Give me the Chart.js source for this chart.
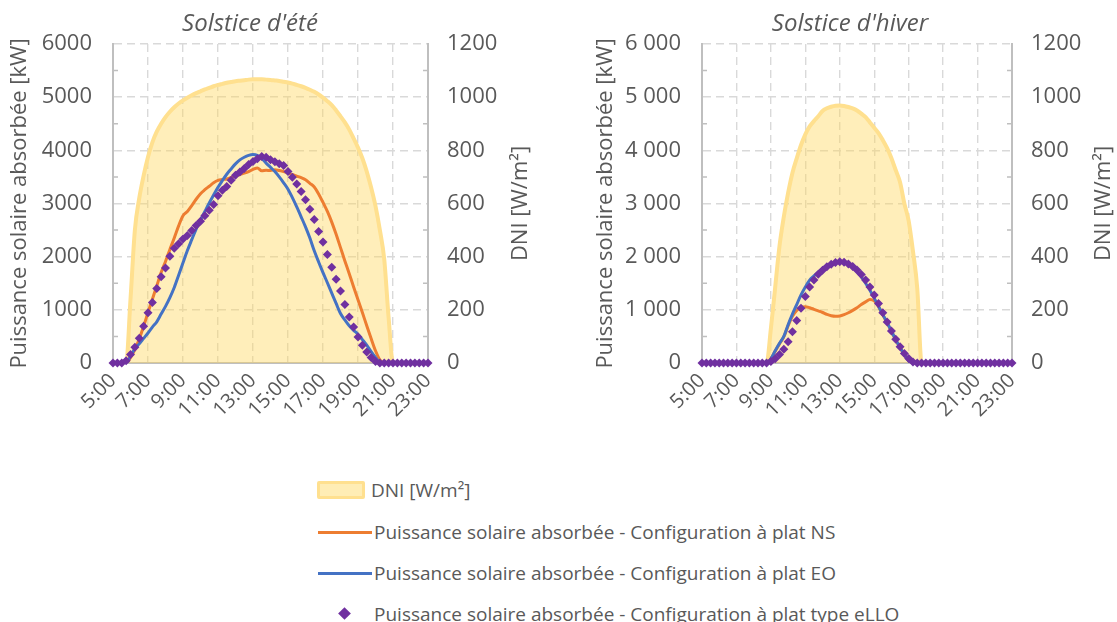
<!DOCTYPE html>
<html lang="fr">
<head>
<meta charset="utf-8">
<title>Solstices</title>
<script src="https://cdn.jsdelivr.net/npm/chart.js@4/dist/chart.umd.min.js"></script>
<style>
  html, body { margin: 0; padding: 0; background: #fff; }
  body { position: relative; width: 1117px; height: 622px; overflow: hidden;
         font-family: 'Open Sans', sans-serif; color: #595959; }
  canvas { position: absolute; top: 0; }
  #summer-chart { left: 0; }
  #winter-chart { left: 560px; }
  .lg { position: absolute; }
  .lg-text { font-size: 19px; line-height: 24px; white-space: nowrap; }
  .sw-area { left: 317px; top: 481px; width: 48px; height: 18px; box-sizing: border-box;
             background: rgba(255, 214, 90, 0.45); border: 3px solid #FFE08F; border-radius: 2px; }
  .sw-line { left: 318px; width: 54px; height: 3px; }
  .sw-diamond { left: 340px; top: 609px; width: 9px; height: 9px; background: #7030A0; transform: rotate(45deg); }
</style>
</head>
<body>
<canvas id="summer-chart" width="560" height="450"></canvas>
<canvas id="winter-chart" width="557" height="450"></canvas>

<div class="lg sw-area"></div>
<div class="lg lg-text" style="left:371px; top:478px">DNI [W/m²]</div>
<div class="lg sw-line" style="top:531px; background:#ED7D31"></div>
<div class="lg lg-text" style="left:374px; top:520px">Puissance solaire absorbée - Configuration à plat NS</div>
<div class="lg sw-line" style="top:572px; background:#4472C4"></div>
<div class="lg lg-text" style="left:374px; top:561px">Puissance solaire absorbée - Configuration à plat EO</div>
<div class="lg sw-diamond"></div>
<div class="lg lg-text" style="left:374px; top:602px">Puissance solaire absorbée - Configuration à plat type eLLO</div>

<script>
// 15-minute steps from 5:00 to 23:00
const times = [
  '5:00', '5:15', '5:30', '5:45', '6:00', '6:15', '6:30', '6:45',
  '7:00', '7:15', '7:30', '7:45', '8:00', '8:15', '8:30', '8:45',
  '9:00', '9:15', '9:30', '9:45', '10:00', '10:15', '10:30', '10:45',
  '11:00', '11:15', '11:30', '11:45', '12:00', '12:15', '12:30', '12:45',
  '13:00', '13:15', '13:30', '13:45', '14:00', '14:15', '14:30', '14:45',
  '15:00', '15:15', '15:30', '15:45', '16:00', '16:15', '16:30', '16:45',
  '17:00', '17:15', '17:30', '17:45', '18:00', '18:15', '18:30', '18:45',
  '19:00', '19:15', '19:30', '19:45', '20:00', '20:15', '20:30', '20:45',
  '21:00', '21:15', '21:30', '21:45', '22:00', '22:15', '22:30', '22:45',
  '23:00'
];

// Solstice d'été
const summerDni = [
  0, 0, 0, 0, 240, 500, 620, 705,
  775, 830, 870, 900, 925, 945, 962, 976,
  988, 998, 1007, 1015, 1022, 1029, 1035, 1041,
  1046, 1050, 1054, 1057, 1060, 1062, 1064, 1066,
  1067, 1067, 1067, 1066, 1065, 1063, 1061, 1058,
  1055, 1051, 1046, 1041, 1035, 1028, 1020, 1010,
  998, 985, 970, 950, 928, 905, 878, 845,
  810, 770, 720, 660, 590, 500, 390, 170,
  0, 0, 0, 0, 0, 0, 0, 0, 0
];
const summerNs = [
  0, 0, 0, 0, 100, 250, 450, 690,
  950, 1200, 1450, 1700, 1910, 2135, 2350, 2580,
  2770, 2850, 2960, 3080, 3185, 3260, 3325, 3390,
  3435, 3450, 3462, 3490, 3515, 3545, 3570, 3600,
  3640, 3670, 3615, 3625, 3620, 3635, 3620, 3600,
  3570, 3545, 3515, 3485, 3445, 3380, 3310, 3180,
  3020, 2850, 2650, 2420, 2170, 1920, 1680, 1430,
  1190, 950, 700, 460, 230, 60, 0, 0,
  0, 0, 0, 0, 0, 0, 0, 0, 0
];
const summerEo = [
  0, 0, 0, 0, 130, 270, 360, 463,
  565, 675, 775, 920, 1065, 1230, 1420, 1650,
  1885, 2115, 2320, 2520, 2690, 2850, 3010, 3160,
  3305, 3430, 3550, 3650, 3745, 3820, 3870, 3905,
  3920, 3905, 3850, 3760, 3680, 3600, 3500, 3390,
  3270, 3110, 2935, 2750, 2560, 2350, 2110, 1900,
  1700, 1510, 1315, 1120, 930, 810, 700, 615,
  540, 440, 335, 215, 105, 10, 0, 0,
  0, 0, 0, 0, 0, 0, 0, 0, 0
];
const summerEllo = [
  0, 0, 0, 40, 160, 295, 465, 690,
  945, 1140, 1400, 1620, 1785, 2010, 2160, 2244,
  2330, 2397, 2490, 2587, 2667, 2770, 2875, 2982,
  3145, 3250, 3320, 3435, 3532, 3592, 3660, 3732,
  3790, 3841, 3882, 3870, 3822, 3785, 3750, 3713,
  3600, 3495, 3365, 3228, 3070, 2890, 2700, 2475,
  2275, 2040, 1800, 1575, 1356, 1100, 866, 675,
  490, 335, 208, 103, 30, 0, 0, 0,
  0, 0, 0, 0, 0, 0, 0, 0, 0
];

// Solstice d'hiver
const winterDni = [
  0, 0, 0, 0, 0, 0, 0, 0,
  0, 0, 0, 0, 0, 0, 0, 0,
  130, 285, 440, 550, 640, 715, 770, 820,
  860, 890, 910, 928, 948, 958, 964, 968,
  969, 967, 963, 958, 950, 938, 925, 905,
  885, 865, 838, 808, 770, 725, 680, 600,
  535, 420, 280, 0, 0, 0, 0, 0,
  0, 0, 0, 0, 0, 0, 0, 0,
  0, 0, 0, 0, 0, 0, 0, 0, 0
];
const winterNs = [
  0, 0, 0, 0, 0, 0, 0, 0,
  0, 0, 0, 0, 0, 0, 0, 0,
  80, 220, 360, 490, 700, 880, 990, 1050,
  1060, 1040, 1010, 980, 950, 915, 890, 880,
  885, 910, 945, 990, 1040, 1100, 1150, 1195,
  1170, 1060, 905, 755, 595, 435, 285, 155,
  45, 0, 0, 0, 0, 0, 0, 0,
  0, 0, 0, 0, 0, 0, 0, 0,
  0, 0, 0, 0, 0, 0, 0, 0, 0
];
const winterEo = [
  0, 0, 0, 0, 0, 0, 0, 0,
  0, 0, 0, 0, 0, 0, 0, 0,
  80, 230, 370, 500, 720, 920, 1100, 1280,
  1430, 1560, 1640, 1710, 1780, 1830, 1860, 1885,
  1900, 1890, 1855, 1800, 1720, 1620, 1500, 1370,
  1220, 1065, 910, 760, 600, 440, 290, 160,
  40, 0, 0, 0, 0, 0, 0, 0,
  0, 0, 0, 0, 0, 0, 0, 0,
  0, 0, 0, 0, 0, 0, 0, 0, 0
];
const winterEllo = [
  0, 0, 0, 0, 0, 0, 0, 0,
  0, 0, 0, 0, 0, 0, 0, 0,
  30, 80, 160, 260, 400, 590, 800, 1030,
  1250, 1430, 1560, 1670, 1745, 1810, 1858, 1890,
  1905, 1895, 1862, 1815, 1750, 1665, 1560, 1430,
  1280, 1120, 945, 770, 600, 445, 305, 180,
  85, 20, 0, 0, 0, 0, 0, 0,
  0, 0, 0, 0, 0, 0, 0, 0,
  0, 0, 0, 0, 0, 0, 0, 0, 0
];

const TEXT = '#595959';
const GRID = '#D9D9D9';
const AXIS = '#BFBFBF';

Chart.defaults.font.family = "'Open Sans', sans-serif";
Chart.defaults.color = TEXT;

// chart title, right axis title (reads bottom to top) and the small minor ticks
const panelDecor = {
  id: 'panelDecor',
  afterDraw(chart, args, opts) {
    const { ctx, chartArea: a, scales } = chart;
    const ticks = scales.y.ticks;
    ctx.save();
    ctx.strokeStyle = AXIS;
    ctx.lineWidth = 1.5;
    for (let i = 0; i < ticks.length - 1; i++) {
      const y = scales.y.getPixelForValue((ticks[i].value + ticks[i + 1].value) / 2);
      ctx.beginPath();
      ctx.moveTo(a.left, y); ctx.lineTo(a.left + 5, y);
      ctx.moveTo(a.right - 5, y); ctx.lineTo(a.right, y);
      ctx.stroke();
    }
    ctx.fillStyle = TEXT;
    ctx.textAlign = 'center';
    ctx.textBaseline = 'middle';
    ctx.font = "italic 24px 'Open Sans'";
    ctx.fillText(opts.title, opts.titleX, 24);
    ctx.translate(a.right + opts.rightTitleGap, (a.top + a.bottom) / 2);
    ctx.rotate(-Math.PI / 2);
    ctx.font = "22px 'Open Sans'";
    ctx.fillText('DNI [W/m²]', 0, 0);
    ctx.restore();
  }
};

function buildPanel(canvasId, series, p) {
  return new Chart(document.getElementById(canvasId), {
    type: 'line',
    data: {
      labels: times,
      datasets: [
        {
          label: 'Puissance solaire absorbée - Configuration à plat type eLLO',
          data: series.ello,
          yAxisID: 'y',
          showLine: false,
          pointStyle: 'rectRot',
          pointRadius: 4.5,
          pointBorderWidth: 0,
          backgroundColor: '#7030A0',
          borderColor: '#7030A0',
          clip: false,
          order: 0,
        },
        {
          label: 'Puissance solaire absorbée - Configuration à plat EO',
          data: series.eo,
          yAxisID: 'y',
          borderColor: '#4472C4',
          borderWidth: 3,
          pointRadius: 0,
          cubicInterpolationMode: 'monotone',
          order: 1,
        },
        {
          label: 'Puissance solaire absorbée - Configuration à plat NS',
          data: series.ns,
          yAxisID: 'y',
          borderColor: '#ED7D31',
          borderWidth: 3,
          pointRadius: 0,
          cubicInterpolationMode: 'monotone',
          order: 2,
        },
        {
          label: 'DNI [W/m²]',
          data: series.dni,
          yAxisID: 'y2',
          fill: 'origin',
          backgroundColor: 'rgba(255, 214, 90, 0.42)',
          borderColor: '#FFE08F',
          borderWidth: 4,
          pointRadius: 0,
          cubicInterpolationMode: 'monotone',
          segment: {
            borderColor: (c) => (c.p0.parsed.y === 0 && c.p1.parsed.y === 0 ? 'rgba(0,0,0,0)' : undefined),
          },
          order: 3,
        },
      ],
    },
    options: {
      responsive: false,
      devicePixelRatio: 1,
      animation: false,
      layout: { padding: { top: 44, left: 0, right: 0, bottom: 0 } },
      plugins: {
        legend: { display: false },
        tooltip: { enabled: false },
        panelDecor: { title: p.title, titleX: p.titleX, rightTitleGap: p.rightTitleGap },
      },
      scales: {
        x: {
          ticks: {
            autoSkip: false,
            minRotation: 45,
            maxRotation: 45,
            padding: 6,
            color: TEXT,
            font: { size: 20 },
            callback(v, i) { return i % 8 === 0 ? this.getLabelForValue(v) : ''; },
          },
          grid: {
            color: (c) => (c.index % 8 === 0 ? GRID : 'rgba(0,0,0,0)'),
            lineWidth: 1.4,
            drawTicks: false,
          },
          border: { color: AXIS, width: 2, dash: [8, 5] },
          afterFit: (s) => { s.height = 87; },
        },
        y: {
          position: 'left',
          min: 0,
          max: 6000,
          ticks: { stepSize: 1000, color: TEXT, font: { size: 22 }, padding: 21, callback: p.leftFmt },
          grid: { color: GRID, lineWidth: 1.4, drawTicks: false },
          border: { color: AXIS, width: 2, dash: [8, 5] },
          title: {
            display: true,
            text: 'Puissance solaire absorbée [kW]',
            color: TEXT,
            font: { size: 22 },
            padding: { top: p.leftTitlePad, bottom: 0 },
          },
          afterFit: (s) => { s.width = p.leftW; },
        },
        y2: {
          position: 'right',
          min: 0,
          max: 1200,
          ticks: { stepSize: 200, color: TEXT, font: { size: 22 }, padding: 19, callback: (v) => String(v) },
          grid: { drawOnChartArea: false, drawTicks: false },
          border: { color: AXIS, width: 2 },
          afterFit: (s) => { s.width = p.rightW; },
        },
      },
    },
    plugins: [panelDecor],
  });
}

buildPanel('summer-chart',
  { dni: summerDni, ns: summerNs, eo: summerEo, ello: summerEllo },
  {
    title: "Solstice d'été", titleX: 250, rightTitleGap: 93,
    leftW: 113, rightW: 132, leftTitlePad: 7,
    leftFmt: (v) => String(v),
  });

buildPanel('winter-chart',
  { dni: winterDni, ns: winterNs, eo: winterEo, ello: winterEllo },
  {
    title: "Solstice d'hiver", titleX: 290, rightTitleGap: 92,
    leftW: 142, rightW: 105, leftTitlePad: 33,
    leftFmt: (v) => (v === 0 ? '0' : (v / 1000) + ' 000'),
  });
</script>
</body>
</html>
